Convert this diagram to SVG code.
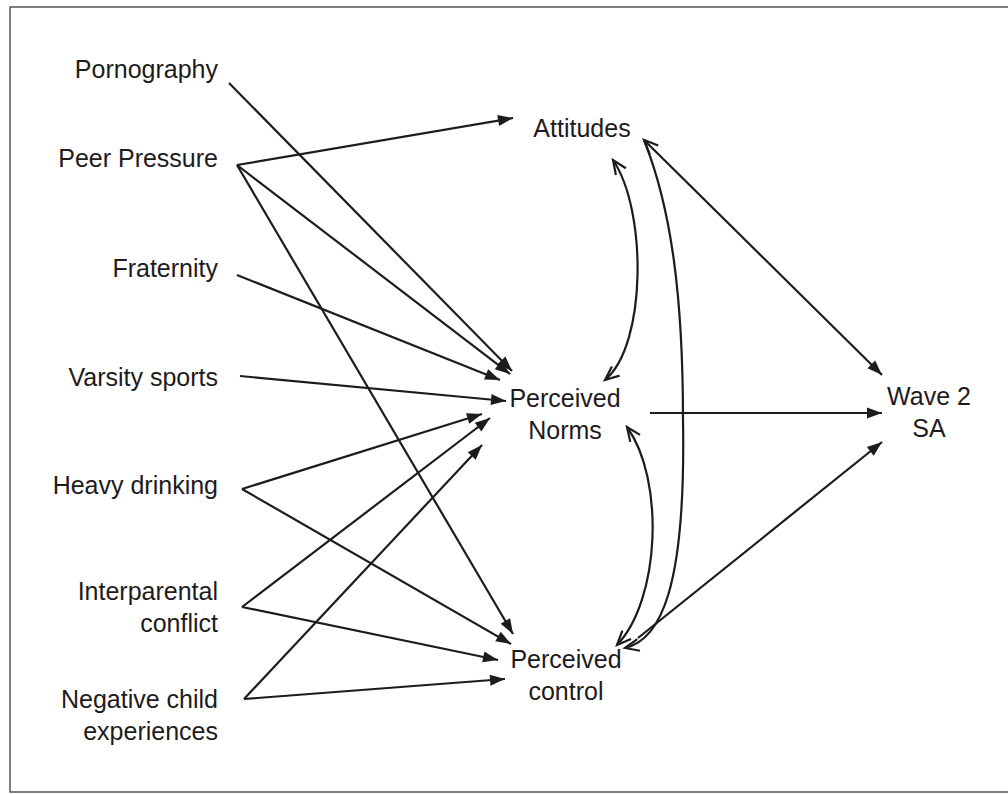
<svg xmlns="http://www.w3.org/2000/svg" width="1008" height="794" viewBox="0 0 1008 794">
<style>
text{font-family:"Liberation Sans",Arial,sans-serif;font-size:25px;fill:#1e1b1c}
.l{text-anchor:end}
.c{text-anchor:middle}
.e{fill:none;stroke:#1e1b1c;stroke-width:2.2}
</style>
<defs>
<marker id="fa" markerUnits="userSpaceOnUse" markerWidth="16" markerHeight="12" refX="15" refY="5.5" orient="auto" overflow="visible">
<path d="M0,0 L15,5.5 L0,11 z" fill="#1e1b1c"/>
</marker>
<marker id="oa" markerUnits="userSpaceOnUse" markerWidth="16" markerHeight="14" refX="14" refY="6" orient="auto-start-reverse" overflow="visible">
<path d="M0,0 L14,6 L0,12" fill="none" stroke="#1e1b1c" stroke-width="2.2"/>
</marker>
</defs>
<rect x="0" y="0" width="1008" height="794" fill="#fff"/>
<rect x="10" y="7" width="1010" height="785" fill="none" stroke="#555" stroke-width="1.5"/>
<g id="connectors">
<line class="e" x1="229" y1="83" x2="512" y2="371" marker-end="url(#fa)"/>
<line class="e" x1="237" y1="165" x2="513" y2="118" marker-end="url(#fa)"/>
<line class="e" x1="237" y1="165" x2="510" y2="374" marker-end="url(#fa)"/>
<line class="e" x1="237" y1="275" x2="500" y2="380" marker-end="url(#fa)"/>
<line class="e" x1="240" y1="376" x2="506" y2="401" marker-end="url(#fa)"/>
<line class="e" x1="242" y1="489" x2="482" y2="414" marker-end="url(#fa)"/>
<line class="e" x1="242" y1="489" x2="511" y2="644" marker-end="url(#fa)"/>
<line class="e" x1="237" y1="165" x2="513" y2="634" marker-end="url(#fa)"/>
<line class="e" x1="242" y1="607" x2="490" y2="418" marker-end="url(#fa)"/>
<line class="e" x1="242" y1="607" x2="498" y2="660" marker-end="url(#fa)"/>
<line class="e" x1="244" y1="699" x2="482" y2="445" marker-end="url(#fa)"/>
<line class="e" x1="244" y1="699" x2="505" y2="679" marker-end="url(#fa)"/>
<line class="e" x1="650" y1="413" x2="882" y2="413" marker-end="url(#fa)"/>
<line class="e" x1="638" y1="638" x2="882" y2="442" marker-end="url(#fa)"/>
<line class="e" x1="644" y1="140" x2="882" y2="375" marker-start="url(#oa)" marker-end="url(#fa)"/>
<path class="e" d="M605,380 C647,345 647,210 613,160" marker-start="url(#oa)" marker-end="url(#oa)"/>
<path class="e" d="M617,645 C660,600 665,480 627,427" marker-start="url(#oa)" marker-end="url(#oa)"/>
<path class="e" d="M625,648 C660,640 686,590 683,420 C683,300 672,210 644,140" marker-start="url(#oa)"/>
</g>
<g id="pornography"><text class="l" x="218" y="78">Pornography</text></g>
<g id="peer-pressure"><text class="l" x="218" y="167">Peer Pressure</text></g>
<g id="fraternity"><text class="l" x="218" y="277">Fraternity</text></g>
<g id="varsity-sports"><text class="l" x="218" y="386">Varsity sports</text></g>
<g id="heavy-drinking"><text class="l" x="218" y="494">Heavy drinking</text></g>
<g id="interparental-conflict"><text class="l" x="218" y="600">Interparental</text><text class="l" x="218" y="632">conflict</text></g>
<g id="negative-child"><text class="l" x="218" y="708">Negative child</text><text class="l" x="218" y="740">experiences</text></g>
<g id="attitudes"><text class="c" x="582" y="137">Attitudes</text></g>
<g id="perceived-norms"><text class="c" x="565" y="407">Perceived</text><text class="c" x="565" y="439">Norms</text></g>
<g id="perceived-control"><text class="c" x="566" y="668">Perceived</text><text class="c" x="566" y="700">control</text></g>
<g id="wave2-sa"><text class="c" x="929" y="405">Wave 2</text><text class="c" x="929" y="437">SA</text></g>
</svg>
